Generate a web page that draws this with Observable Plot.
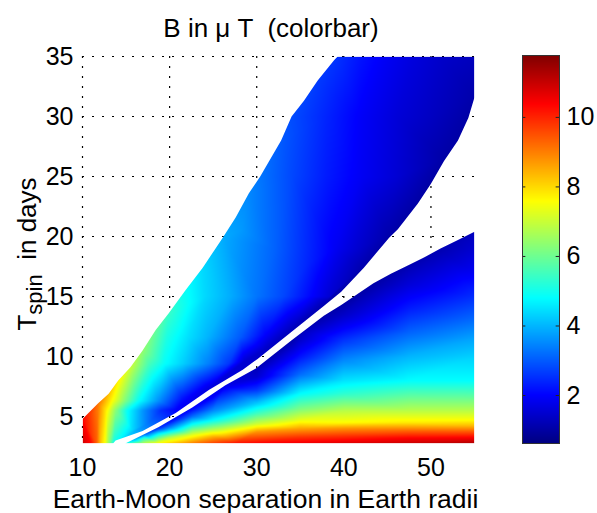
<!DOCTYPE html>
<html><head><meta charset="utf-8">
<script src="https://cdn.jsdelivr.net/npm/d3@7"></script>
<script src="https://cdn.jsdelivr.net/npm/@observablehq/plot@0.6"></script>
<style>
html,body{margin:0;padding:0;background:#fff;}
#wrap{position:relative;width:597px;height:513px;overflow:hidden;}
#wrap svg{position:absolute;top:0;}
</style></head><body><div id="wrap"></div>
<script>
// ---- axis ticks and domains ----
const xTicks = [10, 20, 30, 40, 50];
const yTicks = [5, 10, 15, 20, 25, 30, 35];
const cbTicks = [2, 4, 6, 8, 10];
const xDomain = [10, 55];
const yDomain = [2.75, 35];
const bRange = [0.62, 11.78];

// ---- boundaries of the two filled regions (x, y) ----
const upperLeftEdge = [[10,4.8],[11.8,6.1],[13,6.9],[14.1,8],[15.5,9.1],[16.9,10.5],[18.4,12.2],[19.9,13.6],[21.8,15.5],[23.8,17.4],[26.1,19.9],[27.6,21.6],[29.1,23.6],[30.4,25],[32.8,28],[34,30],[35.4,31.3],[37,33],[38.9,34.7],[39.3,35]];
const upperRightEdge = [[13.5,2.75],[13.8,3.0],[16.9,3.8],[20.7,5.3],[24.5,7.2],[28.4,8.9],[30.1,9.8],[33.9,12.0],[37.7,14.2],[39.7,15.4],[42.3,17.4],[45.2,19.9],[46.2,20.6],[48.5,22.75],[50,24.4],[51.5,26.3],[53.1,28],[54.3,29.9],[55,31.6]];
const lowerTopEdge = [[14.9,2.75],[18.7,4.1],[22.6,5.75],[26.4,7.6],[29.9,9.0],[33.9,11.3],[37.7,13.4],[39.7,14.3],[43.4,16.1],[45.4,16.9],[47.4,17.6],[49.2,18.25],[51.1,19],[53.1,19.7],[55,20.4]];

// ---- B (micro-tesla) samples: [x, y, B] ----
const upperSamples = [
  [10,2.75,10.9],[10,4.8,10.4],[11.8,6.1,9.1],[13,6.9,8.3],[14.1,8,7.7],[15.5,9.1,7.0],[16.9,10.5,6.4],[18.4,12.2,5.9],[19.9,13.6,5.4],[21.8,15.5,4.9],[23.8,17.4,4.4],[26.1,19.9,3.9],[29.1,23.6,3.5],[30.4,25,3.3],[32.8,28,3.0],[34,30,2.85],[37,33,2.65],[39.3,35,2.55],
  [11,2.75,10.3],[11.6,2.75,9.4],[12.1,2.75,8.2],[12.6,2.75,7.5],[13.1,2.75,6.2],[13.6,2.75,5.0],
  [11.8,5.5,9.0],[12.7,5.5,7.8],[13.8,5.5,6.3],[15.1,5.5,4.9],[17,5.5,3.6],[19,5.5,2.5],
  [15.7,3.9,4.4],[17.5,4.4,3.3],[20.8,5.6,2.0],
  [13.4,6.3,7.6],[14.9,6.3,6.2],[16.4,6.3,4.9],[18.7,6.3,3.6],[21.5,6.5,2.2],
  [17.6,9.4,5.6],[19.3,9.4,4.9],[21.5,9.4,4.3],[24.5,9.4,3.4],[26.8,9.4,2.6],
  [19.7,11.6,5.1],[22,11.6,4.5],[24.3,11.6,4.0],[28.1,11.6,3.0],[31,11.8,2.0],
  [24,15,4.4],[27,15,3.9],[30,15,3.3],[33,15,2.8],[36,15,2.1],[38.5,15,1.5],
  [28.2,20.5,3.7],[32,19,3.1],[35.9,17.75,2.4],[39,19,1.9],[41.6,19,1.5],
  [34,25,2.8],[38,25,2.3],[42,25,1.9],[46,25,1.55],
  [38,30,2.4],[42,30,1.95],[46,30,1.6],[50,30,1.35],
  [42,35,2.2],[45,35,1.9],[48,35,1.65],[51,35,1.45],[55,35,1.3],
  [24.5,7.4,1.7],[28.6,9.6,1.5],[31,10.6,1.4],[34,12.3,1.3],[38,14.6,1.2],[42,17.4,1.15],[45.2,20.1,1.1],[48.5,23,1.05],[51.5,26.5,1.05],[54.3,30.1,1.05],[55,31.8,1.1]
];
const lowerSamples = [
  [14.9,2.75,5.0],[16,2.75,6.0],[16,3.05,4.2],[17,2.75,6.8],[17,3.2,5.2],[17.2,3.55,3.0],
  [18.6,2.75,7.6],[18.7,3.6,4.5],[18.7,4.0,2.6],
  [20,2.75,8.1],[20,3.25,6.8],[20,3.7,4.9],[20,4.1,3.4],[20,4.55,2.2],
  [22.6,2.75,9.0],[22.6,3.5,7.2],[22.6,4.3,5.0],[22.6,5.0,3.2],[22.6,5.6,2.1],
  [25,2.75,9.7],[25,3.3,8.5],[25,3.9,6.8],[25,4.7,4.8],[25,5.5,3.5],[25,6.6,2.0],[26.4,7.5,1.8],
  [27.4,2.75,10.2],
  [30,2.75,10.4],[30,3.7,8.8],[30,4.4,7.0],[30,5.25,5.5],[30,6.1,4.2],[30,7.2,2.6],[30,8.3,1.5],[30,8.9,1.3],
  [33.9,11.1,1.2],
  [35,2.75,10.6],[35,3.3,9.8],[35,4.0,8.6],[35,4.6,7.5],[35,5.6,6.2],[35,6.9,4.8],[35,8.5,3.2],[35,10,2.2],[35,11.3,1.5],[35,12.2,1.2],
  [40,2.75,10.8],[40,3.0,10.4],[40,3.4,9.8],[40,4.0,8.8],[40,4.5,7.6],[40,5.5,6.8],[40,6.9,5.3],[40,8,4.5],[40,9.7,3.5],[40,11.3,2.6],[40,12.5,1.9],[40,13.5,1.4],[40,14.3,1.1],
  [43.4,15.9,1.1],
  [47.5,2.75,11.0],[47.5,3.2,10.4],[47.5,3.8,9.3],[47.5,4.5,7.8],[47.5,5.5,6.8],[47.5,7,5.6],[47.5,8,4.8],[47.5,10,4.0],[47.5,12,3.1],[47.5,14,2.3],[47.5,16,1.6],[47.5,17.5,1.2],
  [51.1,18.8,1.2],
  [55,2.75,11.3],[55,3.2,10.5],[55,3.7,9.5],[55,4.2,8.4],[55,4.7,7.6],[55,5.5,6.8],[55,6.6,5.9],[55,8,4.8],[55,10,4.3],[55,11.5,3.8],[55,13,3.2],[55,15,2.5],[55,17,1.9],[55,19,1.5],[55,20.4,1.3]
];

// ---- jet colormap (style) ----
const jetColors = ["#000080", "#0000ff", "#00ffff", "#ffff00", "#ff0000", "#800000"];
const jetFractions = [0, 1/8, 3/8, 5/8, 7/8, 1];

const colorScale = {
  type: "linear",
  domain: jetFractions.map(f => bRange[0] + f * (bRange[1] - bRange[0])),
  range: jetColors,
  interpolate: "rgb",
  clamp: true
};
const font = "'Liberation Sans', Arial, Helvetica, sans-serif";
const toRows = arr => arr.map(([x, y, b]) => ({x, y, b}));

const wrap = document.getElementById("wrap");

const main = Plot.plot({
  width: 597, height: 513,
  marginLeft: 82, marginRight: 123, marginTop: 56, marginBottom: 70,
  style: {fontFamily: font, background: "transparent", color: "black", overflow: "visible"},
  x: {domain: xDomain},
  y: {domain: yDomain},
  color: colorScale,
  marks: [
    Plot.gridX(xTicks, {stroke: "black", strokeOpacity: 1, strokeWidth: 1.2, strokeDasharray: "2,8"}),
    Plot.gridY(yTicks, {stroke: "black", strokeOpacity: 1, strokeWidth: 1.2, strokeDasharray: "2,8"}),
    Plot.raster(toRows(upperSamples), {x: "x", y: "y", fill: "b", interpolate: "barycentric"}),
    Plot.raster(toRows(lowerSamples), {x: "x", y: "y", fill: "b", interpolate: "barycentric"}),
    Plot.axisX({ticks: xTicks, tickSize: 0, tickPadding: 15, fontSize: 25, label: null}),
    Plot.axisY({ticks: yTicks, tickSize: 0, tickPadding: 9, fontSize: 25, label: null})
  ]
});
main.style.left = "0px";
wrap.appendChild(main);

// clip the two rasters to their regions using the plot's own scales
const sx = main.scale("x"), sy = main.scale("y");
const toPath = pts => "M" + pts.map(([x, y]) => `${sx.apply(x)},${sy.apply(y)}`).join("L") + "Z";
const upperPoly = [[xDomain[0], yDomain[0]], ...upperLeftEdge, [xDomain[1], yDomain[1]], ...upperRightEdge.slice().reverse()];
const lowerPoly = [...lowerTopEdge, [xDomain[1], yDomain[0]]];
const msvg = d3.select(main);
const defs = msvg.insert("defs", ":first-child");
defs.append("clipPath").attr("id", "clip-upper").attr("clipPathUnits", "userSpaceOnUse").append("path").attr("d", toPath(upperPoly));
defs.append("clipPath").attr("id", "clip-lower").attr("clipPathUnits", "userSpaceOnUse").append("path").attr("d", toPath(lowerPoly));
let rasters = msvg.selectAll('g[aria-label="raster"]').nodes();
if (rasters.length < 2) rasters = msvg.selectAll("image").nodes();
d3.select(rasters[0]).attr("clip-path", "url(#clip-upper)");
d3.select(rasters[1]).attr("clip-path", "url(#clip-lower)");

// colorbar
const cb = Plot.plot({
  width: 97, height: 513,
  marginLeft: 22, marginRight: 38, marginTop: 55, marginBottom: 70,
  style: {fontFamily: font, background: "transparent", color: "black", overflow: "visible"},
  x: {domain: [0, 1], axis: null},
  y: {domain: bRange},
  color: colorScale,
  marks: [
    Plot.raster({fill: (x, y) => y, x1: 0, x2: 1, y1: bRange[0], y2: bRange[1]}),
    Plot.ruleY(cbTicks, {x1: 0, x2: 0.09, stroke: "#222"}),
    Plot.ruleY(cbTicks, {x1: 0.91, x2: 1, stroke: "#222"}),
    Plot.frame({stroke: "#333"}),
    Plot.axisY({anchor: "right", ticks: cbTicks, tickSize: 0, tickPadding: 7, fontSize: 25, label: null})
  ]
});
cb.style.left = "500px";
wrap.appendChild(cb);

// titles
const ns = "http://www.w3.org/2000/svg";
const ov = d3.select(wrap).append("svg")
  .attr("xmlns", ns).attr("width", 597).attr("height", 513)
  .style("left", "0px").style("font-family", font).style("pointer-events", "none");
ov.append("text").attr("x", 271).attr("y", 37).attr("text-anchor", "middle")
  .attr("font-size", 26).style("white-space", "pre")
  .text("B in \u03bc T  (colorbar)");
ov.append("text").attr("x", 265.5).attr("y", 508).attr("text-anchor", "middle")
  .attr("font-size", 26.5).text("Earth-Moon separation in Earth radii");
const yl = ov.append("text").attr("transform", "translate(36,254) rotate(-90)")
  .attr("text-anchor", "middle").attr("font-size", 26);
yl.append("tspan").text("T");
yl.append("tspan").attr("font-size", 22).attr("dy", 6).text("spin");
yl.append("tspan").attr("dy", -6).style("white-space", "pre").text("  in days");
</script>
</body></html>
